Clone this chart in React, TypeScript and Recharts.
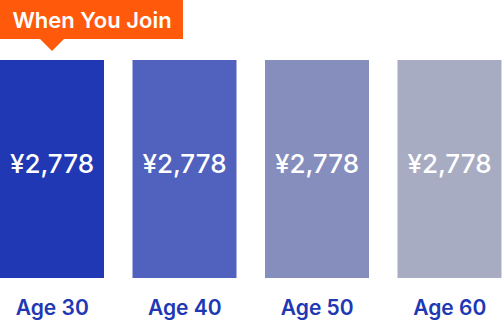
import React from 'react';
import { BarChart, Bar, XAxis, YAxis, LabelList, Cell } from 'recharts';

const ages = ['Age 30', 'Age 40', 'Age 50', 'Age 60'];
const premiums = [2778, 2778, 2778, 2778];
const barColors = ['#2138b4', '#5062be', '#868ebe', '#a8acc2'];
const calloutText = 'When You Join';

const data = ages.map((age, i) => ({ age, premium: premiums[i] }));

const FONT = 'Inter, "Noto Sans", sans-serif';
const ORANGE = '#ff5a0c';

const AgeTick = (props: any) => {
  const { x, y, payload } = props;
  return (
    <text x={x} y={y + 37} textAnchor="middle" fill="#2138b4" fontSize={21} fontWeight={600} fontFamily={FONT}>
      {payload.value}
    </text>
  );
};

const ValueLabel = (props: any) => {
  const { x, y, width, height, value } = props;
  return (
    <text
      x={x + width / 2}
      y={y + height / 2 - 6}
      textAnchor="middle"
      dominantBaseline="central"
      fill="#ffffff"
      fontSize={26}
      fontWeight={500}
      fontFamily={FONT}
    >
      {`¥${Number(value).toLocaleString('en-US')}`}
    </text>
  );
};

const Callout = (props: any) => {
  const { x, y, width, index } = props;
  if (index !== 0) return null;
  const cx = x + width / 2;
  const top = y - 60;
  const boxH = 39;
  return (
    <g>
      <rect x={x} y={top} width={183} height={boxH} fill={ORANGE} />
      <path d={`M${cx - 12},${top + boxH} L${cx + 12},${top + boxH} L${cx},${top + boxH + 12} Z`} fill={ORANGE} />
      <text x={x + 92} y={top + 28} textAnchor="middle" fill="#ffffff" fontSize={22} fontWeight={600} fontFamily={FONT}>
        {calloutText}
      </text>
    </g>
  );
};

export default function App() {
  return (
    <div style={{ position: 'absolute', left: 0, top: 0, width: 502, height: 322 }}>
      <BarChart
        width={502}
        height={322}
        data={data}
        margin={{ top: 60, right: -14, bottom: 0, left: -14 }}
        barSize={104}
      >
        <XAxis dataKey="age" axisLine={false} tickLine={false} tickSize={0} tickMargin={0} height={44} tick={<AgeTick />} interval={0} />
        <YAxis hide domain={[0, 2778]} />
        <Bar dataKey="premium" isAnimationActive={false}>
          {data.map((d, i) => (
            <Cell key={d.age} fill={barColors[i]} />
          ))}
          <LabelList dataKey="premium" content={<ValueLabel />} />
          <LabelList dataKey="premium" content={<Callout />} />
        </Bar>
      </BarChart>
    </div>
  );
}
